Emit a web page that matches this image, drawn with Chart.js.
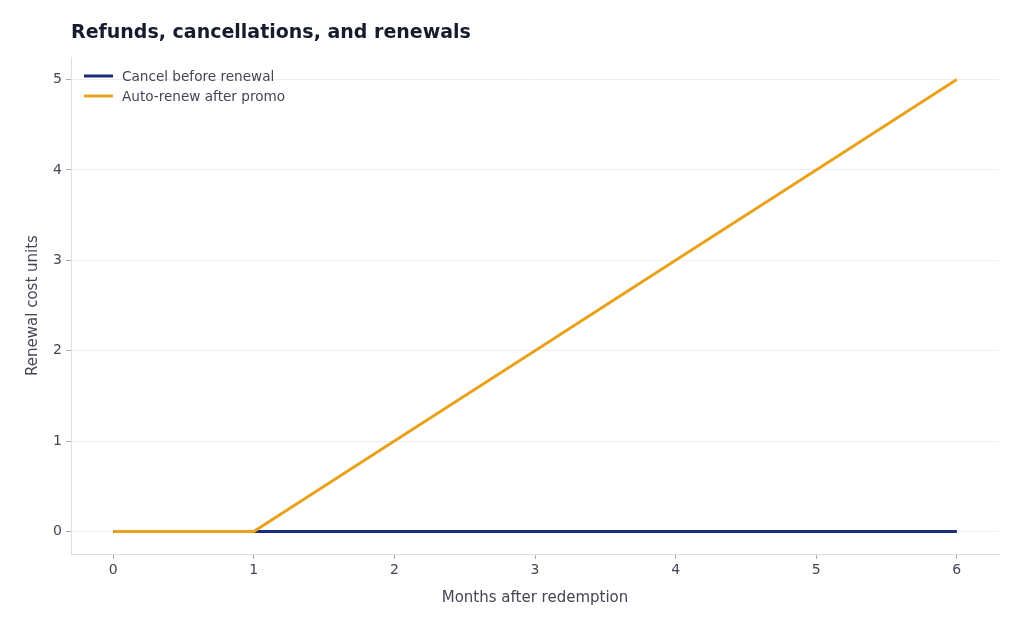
<!DOCTYPE html>
<html>
<head>
<meta charset="utf-8">
<script src="https://cdn.jsdelivr.net/npm/chart.js@4/dist/chart.umd.min.js"></script>
<style>
  html, body { margin: 0; padding: 0; background: #fff; }
  #wrap { width: 1024px; height: 631px; position: relative; }
</style>
</head>
<body>
<div id="wrap"><canvas id="chart" width="1024" height="631"></canvas></div>
<script>
const chartTitle = "Refunds, cancellations, and renewals";
const months = [0, 1, 2, 3, 4, 5, 6];
const seriesNames = ["Cancel before renewal", "Auto-renew after promo"];
const cancelValues = [0, 0, 0, 0, 0, 0, 0];
const autoRenewValues = [0, 0, 1, 2, 3, 4, 5];
const seriesColors = ["#1b2a7c", "#e8a21c"];
const xTicks = [0, 1, 2, 3, 4, 5, 6];
const yTicks = [0, 1, 2, 3, 4, 5];

const FONT = "'DejaVu Sans', sans-serif";

// title drawn flush with the plot's left edge, legend inside the plot
const overlay = {
  id: "overlay",
  afterDraw(chart) {
    const c = chart.ctx;
    const a = chart.chartArea;
    c.save();
    c.fillStyle = "#161b2e";
    c.font = "bold 19px " + FONT;
    c.textBaseline = "middle";
    c.textAlign = "left";
    c.fillText(chartTitle, a.left, 33);

    c.font = "13.6px " + FONT;
    chart.data.datasets.forEach((ds, i) => {
      const y = 76 + i * 20;
      c.strokeStyle = ds.borderColor;
      c.lineWidth = 3;
      c.beginPath();
      c.moveTo(a.left + 13, y);
      c.lineTo(a.left + 42, y);
      c.stroke();
      c.fillStyle = "#444654";
      c.fillText(ds.label, a.left + 51, y + 1);
    });
    c.restore();
  }
};

const toPoints = vals => months.map((m, i) => ({ x: m, y: vals[i] }));

new Chart(document.getElementById("chart").getContext("2d"), {
  type: "line",
  data: {
    datasets: [
      {
        label: seriesNames[0],
        data: toPoints(cancelValues),
        borderColor: seriesColors[0],
        borderWidth: 3,
        pointRadius: 0,
        tension: 0,
        order: 1
      },
      {
        label: seriesNames[1],
        data: toPoints(autoRenewValues),
        borderColor: seriesColors[1],
        borderWidth: 3,
        pointRadius: 0,
        tension: 0,
        order: 0
      }
    ]
  },
  options: {
    responsive: false,
    animation: false,
    layout: { padding: { top: 57, right: 25, left: 0, bottom: 0 } },
    plugins: {
      legend: { display: false },
      title: { display: false },
      tooltip: { enabled: false }
    },
    scales: {
      x: {
        type: "linear",
        min: -0.3,
        max: 6.3,
        afterFit: s => { s.height = 77; },
        afterBuildTicks: s => { s.ticks = xTicks.map(v => ({ value: v })); },
        ticks: { color: "#444654", font: { family: FONT, size: 14 }, padding: 3 },
        grid: { color: "rgba(0,0,0,0)", tickColor: "#aaa", tickLength: 5 },
        border: { color: "#dedede", width: 1 },
        title: {
          display: true,
          text: "Months after redemption",
          color: "#444654",
          font: { family: FONT, size: 15 },
          padding: { top: 8, bottom: 24 }
        }
      },
      y: {
        min: -0.25,
        max: 5.25,
        afterFit: s => { s.width = 71; },
        afterBuildTicks: s => { s.ticks = yTicks.map(v => ({ value: v })); },
        ticks: { color: "#444654", font: { family: FONT, size: 14 }, padding: 4 },
        grid: { color: "#eeeeee", tickColor: "#aaa", tickLength: 5 },
        border: { color: "#dedede", width: 1 },
        title: {
          display: true,
          text: "Renewal cost units",
          color: "#444654",
          font: { family: FONT, size: 15 },
          padding: { top: 24, bottom: 8 }
        }
      }
    }
  },
  plugins: [overlay]
});
</script>
</body>
</html>
